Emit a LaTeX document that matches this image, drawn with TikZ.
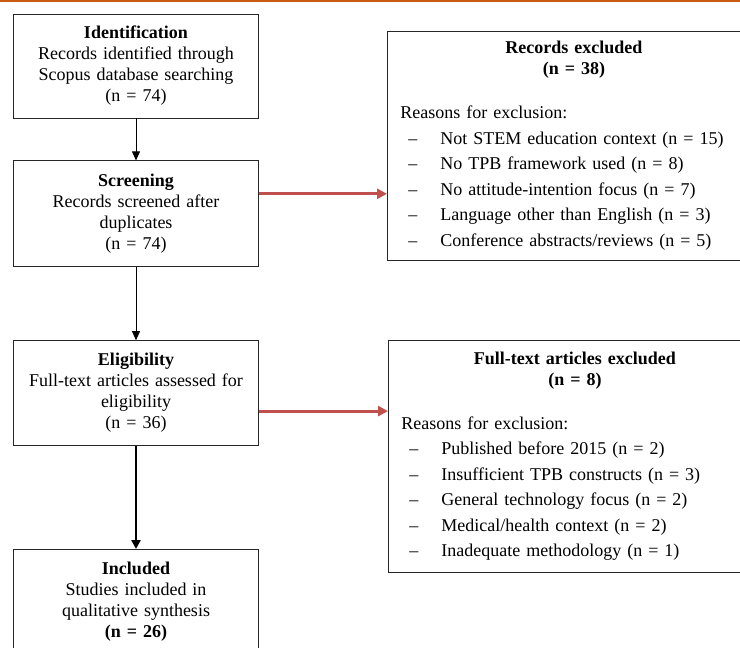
\documentclass[tikz,border=0pt]{standalone}
\usepackage{fontspec}
\setmainfont{Liberation Serif}
\usetikzlibrary{positioning, arrows.meta}

\definecolor{rulebrown}{RGB}{197,90,17}
\definecolor{exred}{RGB}{192,80,77}

\newcommand{\reason}[1]{\par\makebox[40pt][l]{\hspace{8pt}–}#1}

\begin{document}
\begin{tikzpicture}[x=1pt, y=1pt, semithick,
  stage/.style={draw=black!85, line width=0.8pt, rectangle, align=center,
    text width=232pt, minimum width=245pt, inner xsep=6pt,
    font=\fontsize{18}{21}\selectfont},
  exbox/.style={draw=black!85, line width=0.8pt, rectangle, align=left,
    text width=347pt, minimum width=373pt, inner xsep=13pt, anchor=north west,
    font=\fontsize{18}{21}\selectfont},
  arr/.style={-{Triangle[length=9pt, width=8pt]}, line width=0.8pt},
  thickarr/.style={-{Triangle[length=9pt, width=9pt]}, line width=2.4pt},
  redarr/.style={-{Triangle[length=10pt, width=10pt]}, line width=3pt, draw=exred, fill=exred}]

\useasboundingbox (0,0) rectangle (740,-648);
\clip (0,0) rectangle (740,-648);

% top rule
\draw[draw=rulebrown, line width=1.6pt] (0,-0.8) -- (740,-0.8);

% left column
\node[stage, minimum height=104pt] (ident) at (136,-66)
  {\textbf{Identification}\\Records identified through\\Scopus database searching\\(n = 74)};
\node[stage, minimum height=106pt] (scr)[below=42pt of ident]
  {\textbf{Screening}\\Records screened after\\duplicates\\(n = 74)\\[4pt]};
\node[stage, minimum height=105pt] (elig)[below=73pt of scr]
  {\textbf{Eligibility}\\Full-text articles assessed for\\eligibility\\(n = 36)};
\node[stage, minimum height=104pt] (incl)[below=103pt of elig]
  {\textbf{Included}\\Studies included in\\qualitative synthesis\\\textbf{(n = 26)}};

% right column
\node[exbox, minimum height=229pt] (rex) at (387,-31) {%
  {\centering\bfseries Records excluded\\(n = 38)\par}
  \vspace{23pt}
  Reasons for exclusion:\par
  \baselineskip=25.5pt
  \reason{Not STEM education context (n = 15)}
  \reason{No TPB framework used (n = 8)}
  \reason{No attitude-intention focus (n = 7)}
  \reason{Language other than English (n = 3)}
  \reason{Conference abstracts/reviews (n = 5)}\par};
\node[exbox, minimum height=232pt] (ftex) at (388,-340) {%
  {\centering\bfseries Full-text articles excluded\\(n = 8)\par}
  \vspace{23pt}
  Reasons for exclusion:\par
  \baselineskip=25.5pt
  \reason{Published before 2015 (n = 2)}
  \reason{Insufficient TPB constructs (n = 3)}
  \reason{General technology focus (n = 2)}
  \reason{Medical/health context (n = 2)}
  \reason{Inadequate methodology (n = 1)}\par};

% flow
\draw[arr] (ident.south) -- (ident.south |- scr.north);
\draw[arr] (scr.south) -- (scr.south |- elig.north);
\draw[thickarr] (elig.south) -- (elig.south |- incl.north);

\coordinate (s1) at ([yshift=20pt]scr.east);
\coordinate (s2) at ([yshift=-18pt]elig.east);
\draw[redarr] (s1) -- (s1 -| rex.west);
\draw[redarr] (s2) -- (s2 -| ftex.west);

\end{tikzpicture}
\end{document}
